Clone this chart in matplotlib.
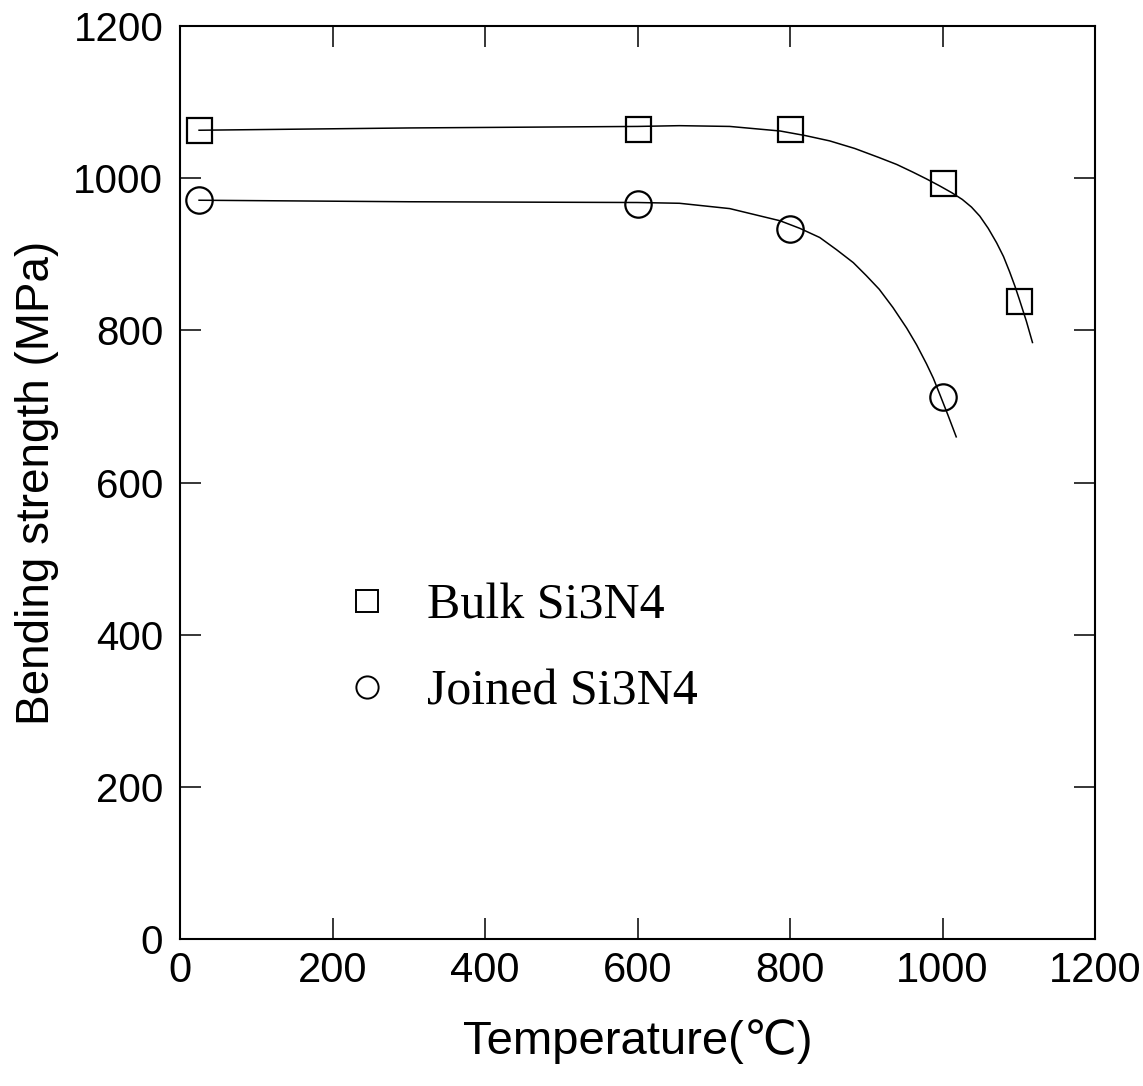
import matplotlib
matplotlib.use("Agg")
import matplotlib.pyplot as plt
from matplotlib.lines import Line2D

# measured points
bulk_T = [25, 600, 800, 1000, 1100]
bulk_S = [1063, 1064, 1064, 993, 839]
joined_T = [25, 600, 800, 1000]
joined_S = [971, 966, 933, 713]

# fitted curves
bulk_curve_T = [25, 300, 600, 655, 721, 787, 820, 852, 885, 917, 940, 961, 979,
                996, 1012, 1026, 1038, 1049, 1060, 1071, 1080, 1088, 1095, 1101, 1110, 1118]
bulk_curve_S = [1063, 1066, 1068, 1069, 1068, 1062, 1056, 1049, 1039, 1027, 1018, 1008, 999,
                990, 981, 972, 962, 950, 934, 915, 897, 877, 858, 840, 812, 784]
joined_curve_T = [25, 300, 600, 655, 721, 787, 813, 839, 861, 883, 900, 917, 935,
                  953, 966, 979, 988, 996, 1007, 1018]
joined_curve_S = [971, 969, 968, 967, 960, 944, 934, 922, 906, 889, 872, 854, 830,
                  803, 781, 756, 737, 717, 689, 660]

x_ticks = [0, 200, 400, 600, 800, 1000, 1200]
y_ticks = [0, 200, 400, 600, 800, 1000, 1200]

sans = ["Liberation Sans", "DejaVu Sans"]

fig = plt.figure(figsize=(11.43, 10.86), dpi=100)
ax = fig.add_axes([180 / 1143, 1 - 939 / 1086, 915 / 1143, 913 / 1086])

ax.plot(bulk_curve_T, bulk_curve_S, color="black", lw=1.1)
ax.plot(joined_curve_T, joined_curve_S, color="black", lw=1.1)
ax.plot(bulk_T, bulk_S, ls="none", marker="s", ms=18, mfc="none", mec="black", mew=1.6)
ax.plot(joined_T, joined_S, ls="none", marker="o", ms=19, mfc="none", mec="black", mew=1.6)

ax.set_xlim(0, 1200)
ax.set_ylim(0, 1200)
ax.set_xticks(x_ticks)
ax.set_yticks(y_ticks)
ax.set_xticklabels([str(v) for v in x_ticks], family=sans, fontsize=30)
ax.set_yticklabels([str(v) for v in y_ticks], family=sans, fontsize=29)
ax.tick_params(axis="both", direction="in", top=True, right=True, length=15, width=1.1)
ax.tick_params(axis="x", pad=9)
ax.tick_params(axis="y", pad=12)
for s in ax.spines.values():
    s.set_linewidth(1.5)

ax.set_xlabel("Temperature(℃)", family=sans, fontsize=34, labelpad=20)
ax.set_ylabel("Bending strength (MPa)", family=sans, fontsize=33, labelpad=10)

handles = [
    Line2D([], [], ls="none", marker="s", ms=16, mfc="none", mec="black", mew=1.4),
    Line2D([], [], ls="none", marker="o", ms=16, mfc="none", mec="black", mew=1.4),
]
ax.legend(handles, ["Bulk Si3N4", "Joined Si3N4"], loc="upper left",
          bbox_to_anchor=(0.177, 0.39), frameon=False, borderpad=0, borderaxespad=0,
          handlelength=1.0, handletextpad=0.7, labelspacing=0.8,
          prop={"family": "Liberation Serif", "size": 36})

fig.savefig("out.png", dpi=100)
